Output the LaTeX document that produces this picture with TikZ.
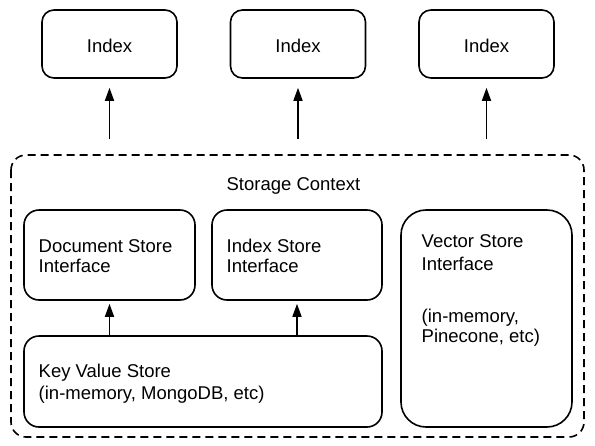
\documentclass[tikz,border=0pt]{standalone}
\usepackage{fontspec}
\setmainfont{Liberation Sans}
\usetikzlibrary{arrows.meta}
\tikzset{
  box/.style={draw=black, line width=1.6pt, rounded corners=12pt, inner sep=0pt},
  txt/.style={anchor=base west, inner sep=0pt, font=\fontsize{18.5}{22}\selectfont},
  ctxt/.style={anchor=base, inner sep=0pt, font=\fontsize{18.5}{22}\selectfont},
  arr/.style={line width=1.6pt, -{Triangle[length=13pt,width=9pt]}},
  dashbox/.style={draw=black, line width=1.6pt, dash pattern=on 8pt off 5pt, rounded corners=15pt}
}
\begin{document}
\begin{tikzpicture}[x=1pt,y=-1pt]
\useasboundingbox (0,0) rectangle (595,445);
% top index boxes
\node[box, minimum width=135pt, minimum height=68pt] (i1) at (109.5,44) {};
\node[box, minimum width=135pt, minimum height=68pt] (i2) at (298,44) {};
\node[box, minimum width=135pt, minimum height=68pt] (i3) at (486.5,44) {};
\node[ctxt] (i1t) at (109.5,52) {Index};
\node[ctxt] (i2t) at (298,52) {Index};
\node[ctxt] (i3t) at (486.5,52) {Index};
% storage context
\draw[dashbox] (11,155) rectangle (584,437);
\coordinate (sc1) at (109.5,139);
\coordinate (sc2) at (298,139);
\coordinate (sc3) at (486.5,139);
\node[ctxt] (sct) at (293.5,190) {Storage Context};
% inner boxes
\node[box, rounded corners=15pt, minimum width=171pt, minimum height=90pt] (ds) at (109.5,255) {};
\node[box, rounded corners=15pt, minimum width=170pt, minimum height=90pt] (is) at (297,255) {};
\node[box, rounded corners=15pt, minimum width=358pt, minimum height=91pt] (kv) at (203,381.5) {};
\node[box, rounded corners=25pt, minimum width=171pt, minimum height=217pt] (vs) at (486.5,318.5) {};
% texts
\node[txt] (dst1) at (38.5,252) {Document Store};
\node[txt] (dst2) at (38.5,272) {Interface};
\node[txt] (ist1) at (226.5,252) {Index Store};
\node[txt] (ist2) at (226.5,272) {Interface};
\node[txt] (kvt1) at (38.5,377) {Key Value Store};
\node[txt] (kvt2) at (38.5,399) {(in-memory, MongoDB, etc)};
\node[txt] (vst1) at (421.5,247) {Vector Store};
\node[txt] (vst2) at (421.5,270) {Interface};
\node[txt] (vst3) at (421.5,322) {(in-memory,};
\node[txt] (vst4) at (421.5,342) {Pinecone, etc)};
% arrows
\draw[arr, shorten >=9pt] (sc1) -- (i1.south);
\draw[arr, shorten >=9pt] (sc2) -- (i2.south);
\draw[arr, shorten >=9pt] (sc3) -- (i3.south);
\draw[arr, shorten >=3pt] (kv.north -| ds.south) -- (ds.south);
\draw[arr, shorten >=3pt] (kv.north -| is.south) -- (is.south);
\end{tikzpicture}
\end{document}
